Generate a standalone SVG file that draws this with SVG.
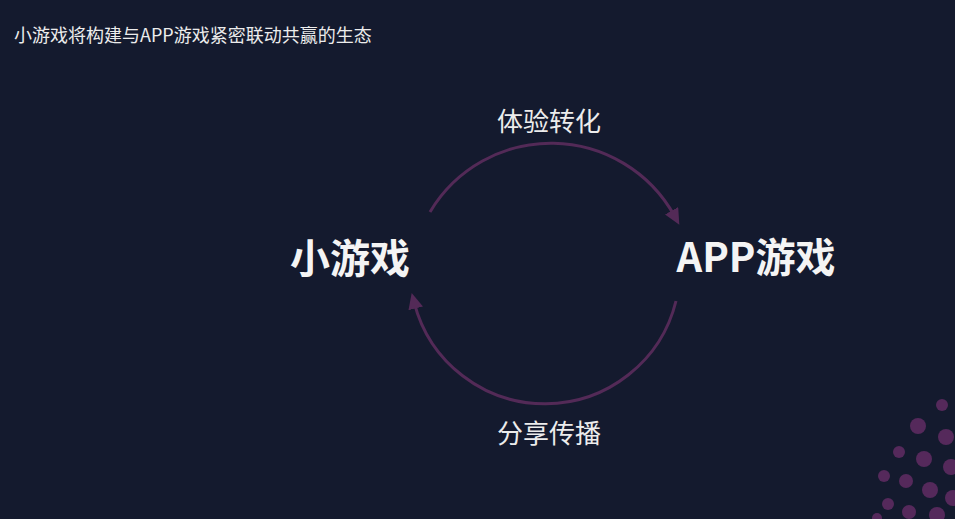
<svg xmlns="http://www.w3.org/2000/svg" width="955" height="519" viewBox="0 0 955 519">
<style>
.t{font-family:"Noto Sans CJK SC","Noto Sans",sans-serif;fill:#ececec}
.big{font-size:40px;font-weight:bold;fill:#f4f4f4}
.lbl{font-size:26px}
.arc{fill:none;stroke:#532a57;stroke-width:3}
.dot{fill:#55295b}
</style>
<defs>
<marker id="ah" markerUnits="userSpaceOnUse" markerWidth="18" markerHeight="16" refX="6" refY="7.5" orient="auto">
<path d="M0,0 L16,7.5 L0,15 z" fill="#532a57"/>
</marker>
</defs>
<rect width="955" height="519" fill="#141a2e"/>
<text class="t" x="14" y="42" font-size="18" fill="#e4e4e4">小游戏将构建与APP游戏紧密联动共赢的生态</text>
<g id="node-xiaoyouxi"><text class="t big" x="350" y="273" text-anchor="middle">小游戏</text></g>
<g id="node-app"><text class="t big" x="756" y="272" text-anchor="middle">APP游戏</text></g>
<g id="connectors">
<path class="arc" d="M430,212 A141,141 0 0 1 674.5,216" marker-end="url(#ah)"/>
<text class="t lbl" x="549" y="131" text-anchor="middle">体验转化</text>
<path class="arc" d="M676,301 A135,135 0 0 1 414.2,302.6" marker-end="url(#ah)"/>
<text class="t lbl" x="549" y="443" text-anchor="middle">分享传播</text>
</g>
<g id="dots">
<circle class="dot" cx="942" cy="405" r="6"/>
<circle class="dot" cx="918" cy="426" r="8"/>
<circle class="dot" cx="946" cy="437" r="8"/>
<circle class="dot" cx="899" cy="452" r="6"/>
<circle class="dot" cx="924" cy="459" r="8"/>
<circle class="dot" cx="951" cy="467" r="8"/>
<circle class="dot" cx="884" cy="476" r="6"/>
<circle class="dot" cx="906" cy="481" r="7"/>
<circle class="dot" cx="930" cy="490" r="8"/>
<circle class="dot" cx="953" cy="498" r="8"/>
<circle class="dot" cx="888" cy="504" r="6"/>
<circle class="dot" cx="909" cy="512" r="7"/>
<circle class="dot" cx="937" cy="515" r="8"/>
<circle class="dot" cx="877" cy="518" r="5"/>
</g>
</svg>
